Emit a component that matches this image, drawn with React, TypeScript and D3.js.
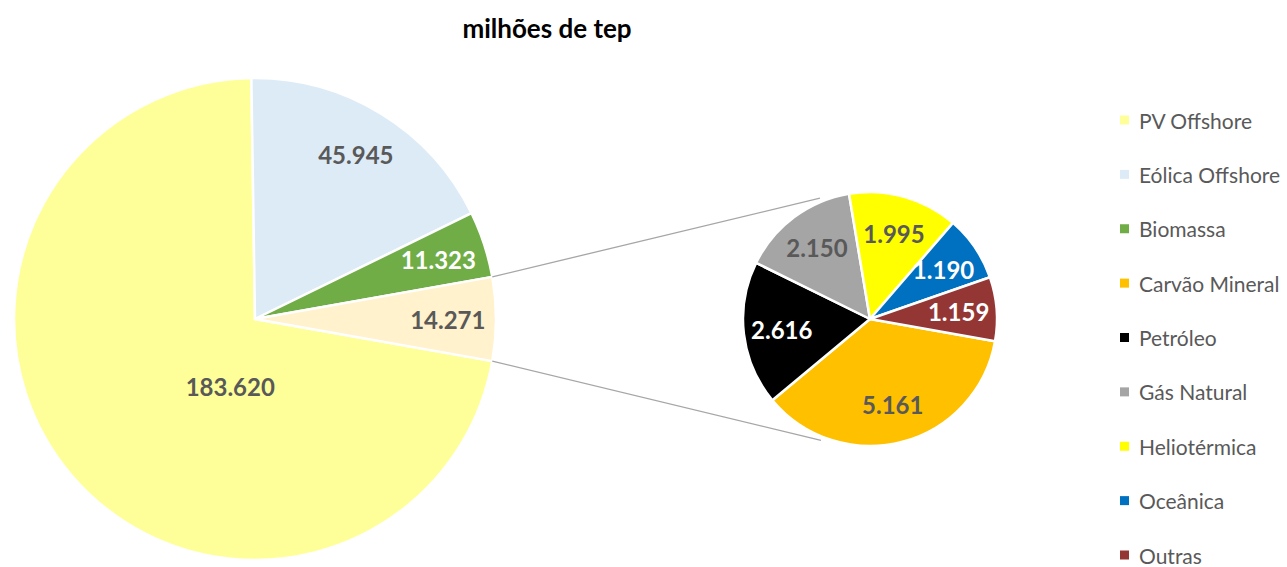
import React from 'react';
import * as d3 from 'd3';

const mainCategories = ['PV Offshore', 'Eólica Offshore', 'Biomassa', 'Outros'];
const mainValues = [183.62, 45.945, 11.323, 14.271];
const mainLabels = ['183.620', '45.945', '11.323', '14.271'];
const mainColors = ['#FFFF99', '#DDEBF7', '#70AD47', '#FFF2CC'];
const mainLabelColors = ['#595959', '#595959', '#FFFFFF', '#595959'];

const subCategories = ['Carvão Mineral', 'Petróleo', 'Gás Natural', 'Heliotérmica', 'Oceânica', 'Outras'];
const subValues = [5.161, 2.616, 2.15, 1.995, 1.19, 1.159];
const subLabels = ['5.161', '2.616', '2.150', '1.995', '1.190', '1.159'];
const subColors = ['#FFC000', '#000000', '#A5A5A5', '#FFFF00', '#0070C0', '#943634'];
const subLabelColors = ['#595959', '#FFFFFF', '#595959', '#595959', '#FFFFFF', '#FFFFFF'];

const legendNames = ['PV Offshore', 'Eólica Offshore', 'Biomassa', 'Carvão Mineral', 'Petróleo', 'Gás Natural', 'Heliotérmica', 'Oceânica', 'Outras'];
const legendColors = ['#FFFF99', '#DDEBF7', '#70AD47', '#FFC000', '#000000', '#A5A5A5', '#FFFF00', '#0070C0', '#943634'];

const title = 'milhões de tep';

const W = 1287;
const H = 567;
const FONT = 'Lato, "Open Sans", sans-serif';

export default function App() {
  const mainC = { x: 255, y: 319 };
  const mainR = 241;
  const subC = { x: 870, y: 319 };
  const subR = 127;

  const total = d3.sum(mainValues);
  const otherVal = mainValues[mainValues.length - 1];
  const start = Math.PI / 2 + (Math.PI * otherVal) / total;

  const mainPie = d3.pie<number>().sort(null).startAngle(start).endAngle(start + 2 * Math.PI)(mainValues);
  const subPie = d3.pie<number>().sort(null).startAngle(start).endAngle(start + 2 * Math.PI)(subValues);

  const mainArc = d3.arc<d3.PieArcDatum<number>>().innerRadius(0).outerRadius(mainR);
  const subArc = d3.arc<d3.PieArcDatum<number>>().innerRadius(0).outerRadius(subR);

  const polar = (c: { x: number; y: number }, a: number, r: number) => [c.x + Math.sin(a) * r, c.y - Math.cos(a) * r];

  const mainLabelPos = mainPie.map((d, i) => {
    if (i === 0) return polar(mainC, (200 * Math.PI) / 180, mainR * 0.3);
    const mid = (d.startAngle + d.endAngle) / 2;
    return polar(mainC, mid, mainR * 0.8);
  });
  const subLabelPos = subPie.map((d) => {
    const mid = (d.startAngle + d.endAngle) / 2;
    return polar(subC, mid, subR * 0.7);
  });

  const other = mainPie[mainPie.length - 1];
  const lineTopStart = polar(mainC, other.startAngle, mainR);
  const lineBotStart = polar(mainC, other.endAngle, mainR);
  const lineTopEnd = polar(subC, (-22.5 * Math.PI) / 180, subR * 1.03);
  const lineBotEnd = polar(subC, (202 * Math.PI) / 180, subR * 1.03);

  const legendY = d3.scalePoint<string>().domain(legendNames).range([120, 555]);

  return (
    <svg width={W} height={H} style={{ position: 'absolute', left: 0, top: 0, background: '#fff' }}>
      <text x={547} y={28} textAnchor="middle" dominantBaseline="central" fontFamily={FONT} fontWeight={700} fontSize={26} fill="#000">
        {title}
      </text>

      <g transform={`translate(${mainC.x},${mainC.y})`}>
        {mainPie.map((d, i) => (
          <path key={i} d={mainArc(d) || ''} fill={mainColors[i]} stroke="#fff" strokeWidth={2.5} strokeLinejoin="round" />
        ))}
      </g>
      <g transform={`translate(${subC.x},${subC.y})`}>
        {subPie.map((d, i) => (
          <path key={i} d={subArc(d) || ''} fill={subColors[i]} stroke="#fff" strokeWidth={2.5} strokeLinejoin="round" />
        ))}
      </g>

      <line x1={lineTopStart[0]} y1={lineTopStart[1]} x2={lineTopEnd[0]} y2={lineTopEnd[1]} stroke="#A6A6A6" strokeWidth={1.3} />
      <line x1={lineBotStart[0]} y1={lineBotStart[1]} x2={lineBotEnd[0]} y2={lineBotEnd[1]} stroke="#A6A6A6" strokeWidth={1.3} />

      {mainPie.map((d, i) => (
        <text key={i} x={mainLabelPos[i][0]} y={mainLabelPos[i][1]} textAnchor="middle" dominantBaseline="central" fontFamily={FONT} fontWeight={700} fontSize={24} fill={mainLabelColors[i]}>
          {mainLabels[i]}
        </text>
      ))}
      {subPie.map((d, i) => (
        <text key={i} x={subLabelPos[i][0]} y={subLabelPos[i][1]} textAnchor="middle" dominantBaseline="central" fontFamily={FONT} fontWeight={700} fontSize={24} fill={subLabelColors[i]}>
          {subLabels[i]}
        </text>
      ))}

      {legendNames.map((n, i) => (
        <g key={n} transform={`translate(1120,${legendY(n)})`}>
          <rect x={0} y={-4.5} width={9} height={9} fill={legendColors[i]} />
          <text x={19} y={0} dominantBaseline="central" fontFamily={FONT} fontSize={21} fill="#595959">
            {n}
          </text>
        </g>
      ))}
    </svg>
  );
}
